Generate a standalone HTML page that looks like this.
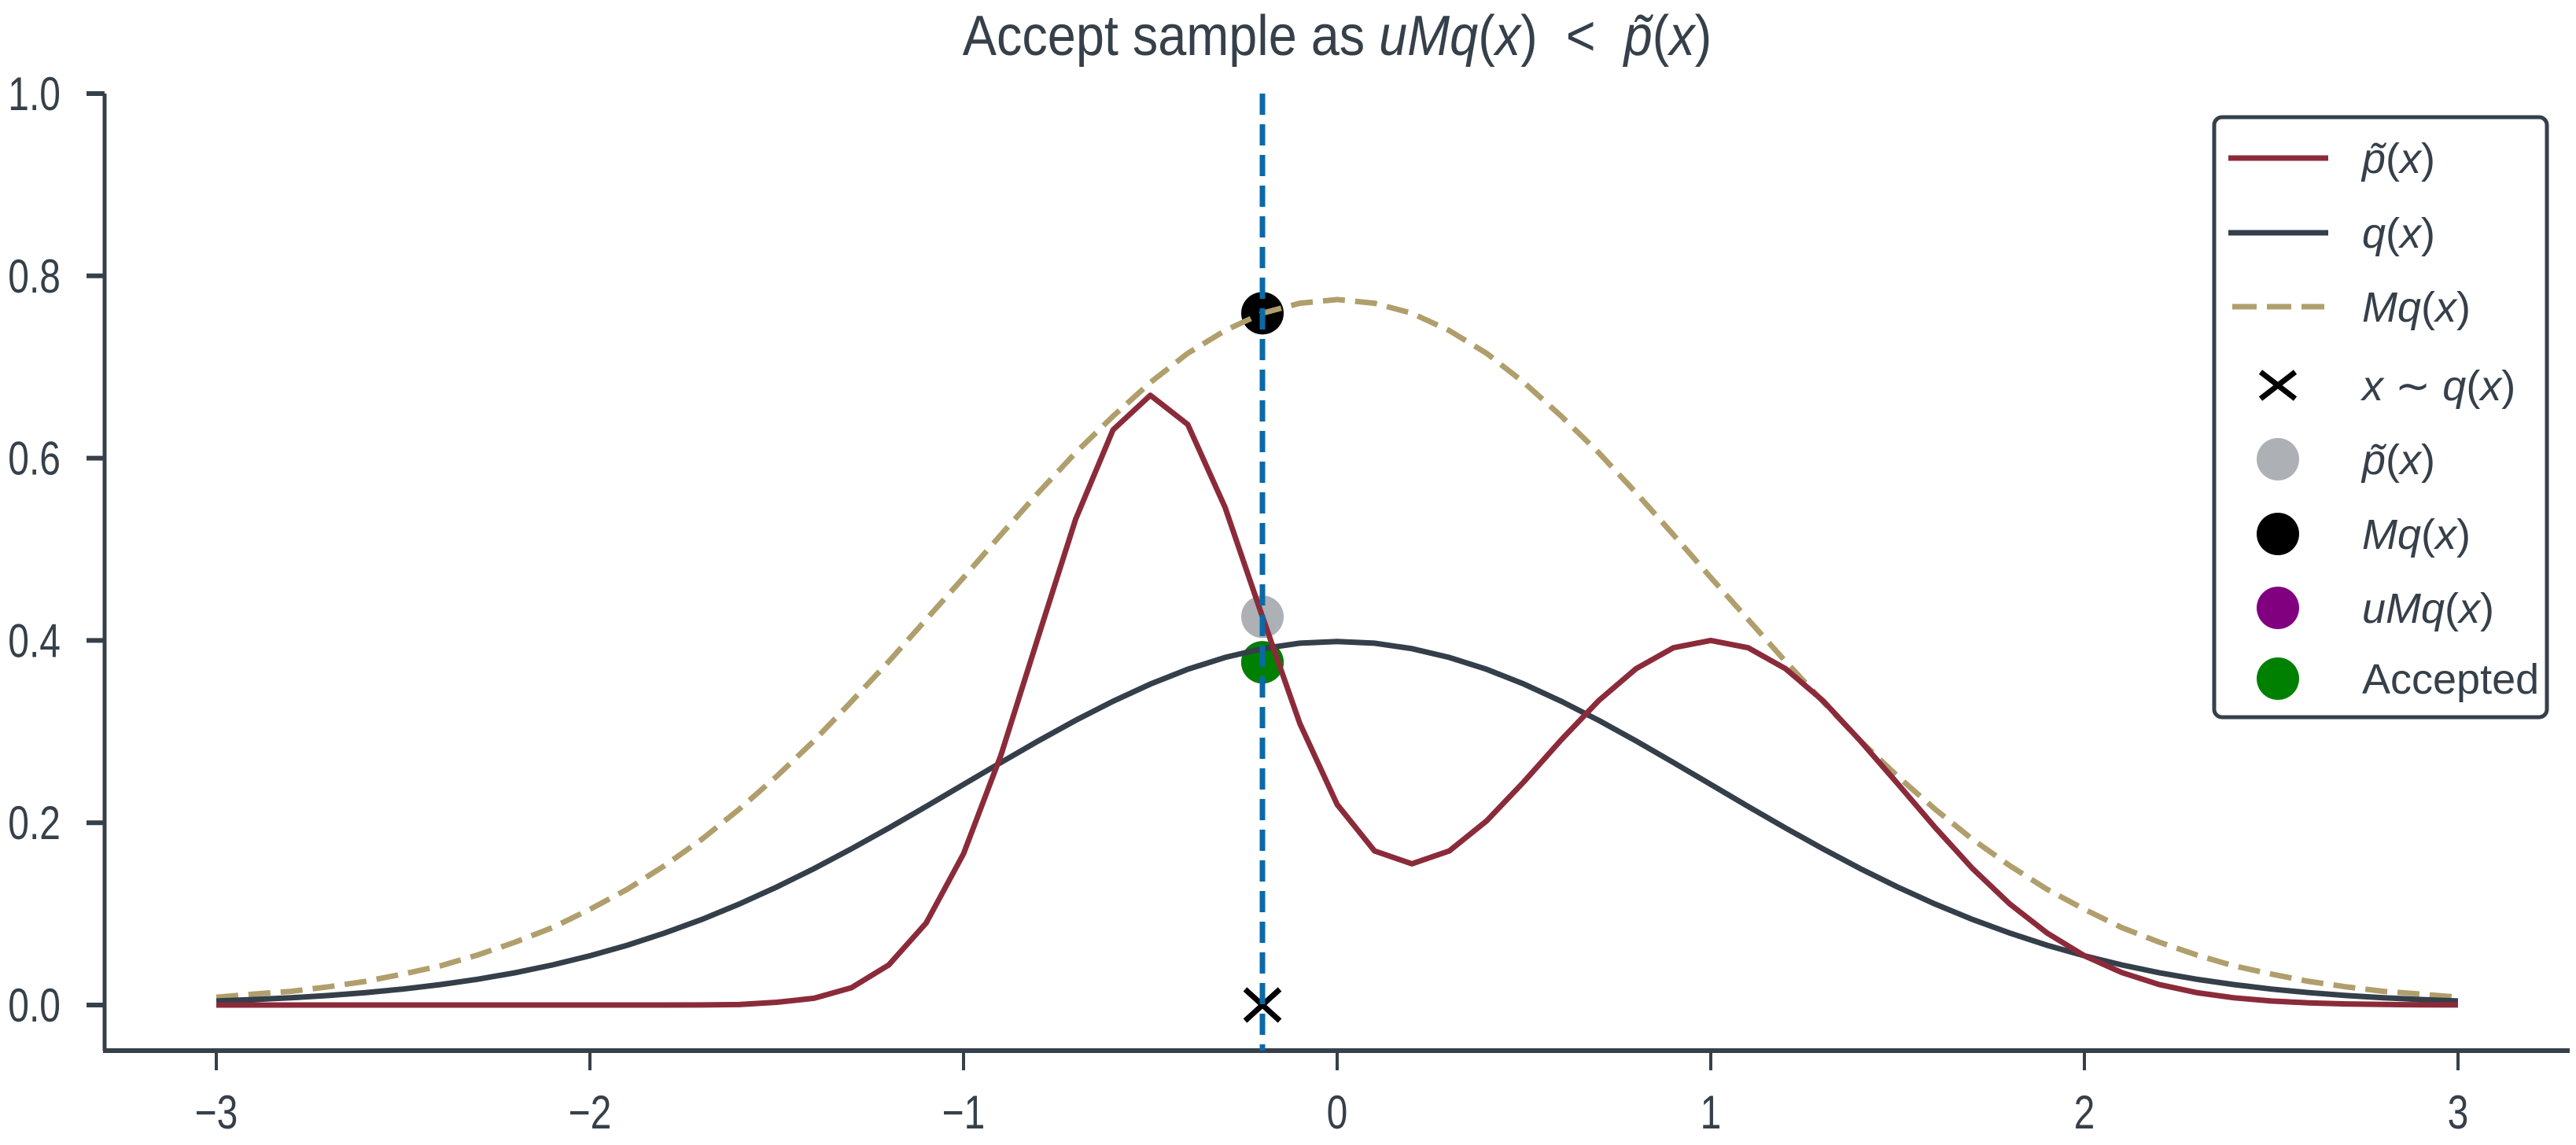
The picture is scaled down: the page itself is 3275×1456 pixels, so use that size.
<!DOCTYPE html>
<html><head><meta charset="utf-8"><style>
html,body{margin:0;padding:0;background:#fff;}
svg{display:block;}
text{font-family:"Liberation Sans",sans-serif;fill:#36404a;}
</style></head><body>
<svg id="chart" width="3275" height="1456" viewBox="0 0 3275 1456" xmlns="http://www.w3.org/2000/svg">
<g id="axes"></g>
<g id="series"></g>
<g id="legend"></g>
</svg>
<script>
const xs = [-3,-2.9,-2.8,-2.7,-2.6,-2.5,-2.4,-2.3,-2.2,-2.1,-2,-1.9,-1.8,-1.7,-1.6,-1.5,-1.4,-1.3,-1.2,-1.1,-1,-0.9,-0.8,-0.7,-0.6,-0.5,-0.4,-0.3,-0.2,-0.1,0,0.1,0.2,0.3,0.4,0.5,0.6,0.7,0.8,0.9,1,1.1,1.2,1.3,1.4,1.5,1.6,1.7,1.8,1.9,2,2.1,2.2,2.3,2.4,2.5,2.6,2.7,2.8,2.9,3];
const pTilde = [0,0,0,0,0,0,0,0,0,0,0,0,0,0.0001,0.0005,0.003,0.0074,0.019,0.044,0.090,0.166,0.274,0.404,0.533,0.631,0.669,0.637,0.546,0.426,0.309,0.220,0.169,0.155,0.169,0.202,0.245,0.291,0.334,0.369,0.392,0.400,0.392,0.369,0.334,0.290,0.243,0.195,0.150,0.111,0.079,0.054,0.0356,0.0225,0.0136,0.0079,0.0044,0.0024,0.0012,0.0006,0.0003,0.0001];
const qVals = [0.0044,0.0060,0.0079,0.0104,0.0136,0.0175,0.0224,0.0283,0.0355,0.0440,0.0540,0.0656,0.0790,0.0940,0.1109,0.1295,0.1497,0.1714,0.1942,0.2179,0.2420,0.2661,0.2897,0.3123,0.3332,0.3521,0.3683,0.3814,0.3910,0.3970,0.3989,0.3970,0.3910,0.3814,0.3683,0.3521,0.3332,0.3123,0.2897,0.2661,0.2420,0.2179,0.1942,0.1714,0.1497,0.1295,0.1109,0.0940,0.0790,0.0656,0.0540,0.0440,0.0355,0.0283,0.0224,0.0175,0.0136,0.0104,0.0079,0.0060,0.0044];
const mqVals = [0.0085,0.012,0.015,0.020,0.026,0.034,0.043,0.055,0.069,0.085,0.105,0.127,0.153,0.182,0.215,0.251,0.290,0.333,0.377,0.423,0.469,0.516,0.562,0.606,0.646,0.683,0.715,0.740,0.759,0.770,0.774,0.770,0.759,0.740,0.715,0.683,0.646,0.606,0.562,0.516,0.469,0.423,0.377,0.333,0.290,0.251,0.215,0.182,0.153,0.127,0.105,0.085,0.069,0.055,0.043,0.034,0.026,0.020,0.015,0.012,0.0085];
const sampleX = [-0.2];
const sampleP = [0.426];
const sampleMq = [0.759];
const sampleUMq = [0.376];
const xTicks = [-3,-2,-1,0,1,2,3];
const xTickLabels = ["\u22123","\u22122","\u22121","0","1","2","3"];
const yTicks = [0,0.2,0.4,0.6,0.8,1.0];
const yTickLabels = ["0.0","0.2","0.4","0.6","0.8","1.0"];

const NS="http://www.w3.org/2000/svg";
const X = v => 1700 + v*475;
const Y = v => 1278 - v*1159;
function mk(tag, attrs, parent){const e=document.createElementNS(NS,tag);for(const k in attrs)e.setAttribute(k,attrs[k]);parent.appendChild(e);return e;}
const axes=document.getElementById('axes'), series=document.getElementById('series'), legend=document.getElementById('legend'), svg=document.getElementById('chart');
const AX='#36404a';

const title=mk('text',{x:0,y:0,'text-anchor':'middle','font-size':72,transform:'translate(1700,70) scale(0.9,1)'},svg);


title.innerHTML='Accept sample as <tspan font-style="italic">uMq</tspan>(<tspan font-style="italic">x</tspan>)  &lt;  <tspan font-style="italic">p̃</tspan>(<tspan font-style="italic">x</tspan>)';
title.setAttribute('xml:space','preserve');
title.style.whiteSpace='pre';

const ys=mk('line',{x1:133,y1:Y(1),x2:133,y2:1336,stroke:AX,'stroke-width':5},axes);


const xsp=mk('line',{x1:131,y1:1336,x2:3267,y2:1336,stroke:AX,'stroke-width':6},axes);


xTicks.forEach((t,i)=>{
  const tk=mk('line',{x1:X(t),y1:1336,x2:X(t),y2:1361,stroke:AX,'stroke-width':4},axes);
  
  
  const lb=mk('text',{x:0,y:0,'text-anchor':'middle','font-size':60,transform:`translate(${X(t)},1435) scale(0.8,1)`},axes);
  lb.textContent=xTickLabels[i];
  
  
});
yTicks.forEach((t,i)=>{
  const tk=mk('line',{x1:110,y1:Y(t),x2:133,y2:Y(t),stroke:AX,'stroke-width':6},axes);
  
  
  const lb=mk('text',{x:0,y:0,'text-anchor':'end','font-size':60,transform:`translate(77,${Y(t)+21}) scale(0.8,1)`},axes);
  lb.textContent=yTickLabels[i];
  
  
});

// sample points first (lines drawn on top)
sampleX.forEach((sx,i)=>{
  const cx=X(sx);
  const c1=mk('circle',{cx:cx,cy:Y(sampleP[i]),r:27,fill:'#adb0b4'},series);
  
  
  const c2=mk('circle',{cx:cx,cy:Y(sampleMq[i]),r:27,fill:'#000'},series);
  
  
  const c3=mk('circle',{cx:cx,cy:Y(sampleUMq[i]),r:27,fill:'#800080'},series);
  
  
  const c4=mk('circle',{cx:cx,cy:Y(sampleUMq[i]),r:27,fill:'#008000'},series);
  
  
  const x1=mk('path',{d:`M${cx-22},${Y(0)-20}L${cx+22},${Y(0)+20}M${cx-22},${Y(0)+20}L${cx+22},${Y(0)-20}`,stroke:'#000','stroke-width':7},series);
  
  
});

function path(vals){return xs.map((x,i)=>(i?'L':'M')+X(x).toFixed(1)+','+Y(vals[i]).toFixed(1)).join(' ');}
const pm=mk('path',{d:path(mqVals),fill:'none',stroke:'#b09f6c','stroke-width':7,'stroke-dasharray':'28 13'},series);


const pq=mk('path',{d:path(qVals),fill:'none',stroke:'#343f4a','stroke-width':7},series);


const pp=mk('path',{d:path(pTilde),fill:'none',stroke:'#8b2b3a','stroke-width':7,'stroke-linejoin':'round'},series);



sampleX.forEach((sx)=>{
  const vl=mk('line',{x1:X(sx),y1:Y(1),x2:X(sx),y2:1336,stroke:'#0a6aa8','stroke-width':7,'stroke-dasharray':'27 12'},series);
  
  
});

const box=mk('rect',{x:2815,y:149,width:423,height:763,rx:10,fill:'#fff',stroke:AX,'stroke-width':5},legend);


const rows=[
 {t:'line',c:'#8b2b3a',lab:'<tspan font-style="italic">p̃</tspan>(<tspan font-style="italic">x</tspan>)'},
 {t:'line',c:'#343f4a',lab:'<tspan font-style="italic">q</tspan>(<tspan font-style="italic">x</tspan>)'},
 {t:'dash',c:'#b09f6c',lab:'<tspan font-style="italic">Mq</tspan>(<tspan font-style="italic">x</tspan>)'},
 {t:'x',c:'#000',lab:'<tspan font-style="italic">x</tspan> ∼ <tspan font-style="italic">q</tspan>(<tspan font-style="italic">x</tspan>)'},
 {t:'dot',c:'#adb0b4',lab:'<tspan font-style="italic">p̃</tspan>(<tspan font-style="italic">x</tspan>)'},
 {t:'dot',c:'#000',lab:'<tspan font-style="italic">Mq</tspan>(<tspan font-style="italic">x</tspan>)'},
 {t:'dot',c:'#800080',lab:'<tspan font-style="italic">uMq</tspan>(<tspan font-style="italic">x</tspan>)'},
 {t:'dot',c:'#008000',lab:'Accepted'}];
const rowY=[201,296,390,490,584,679,773,863];
rows.forEach((r,i)=>{
  const y=rowY[i];
  const g=mk('g',{},legend);
  
  
  if(r.t==='line') mk('line',{x1:2833,y1:y,x2:2960,y2:y,stroke:r.c,'stroke-width':7},g);
  else if(r.t==='dash') mk('line',{x1:2838,y1:y,x2:2955,y2:y,stroke:r.c,'stroke-width':7,'stroke-dasharray':'31 13'},g);
  else if(r.t==='x') mk('path',{d:`M2874,${y-17}L2918,${y+17}M2874,${y+17}L2918,${y-17}`,stroke:r.c,'stroke-width':7},g);
  else mk('circle',{cx:2896,cy:y,r:27,fill:r.c},g);
  const tx=mk('text',{x:3003,y:y+19,'font-size':54},g);
  tx.innerHTML=r.lab;
});
</script>
</body></html>
